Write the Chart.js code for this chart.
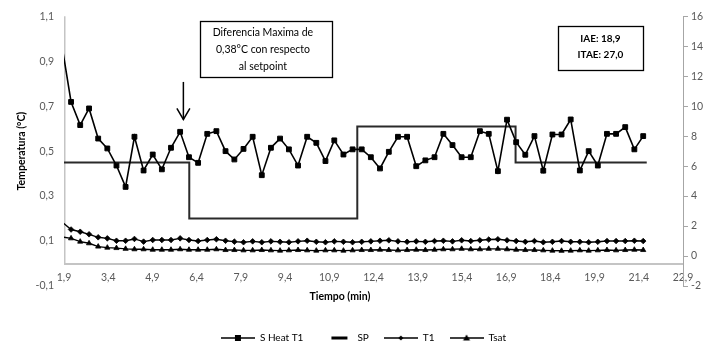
<!DOCTYPE html>
<html><head><meta charset="utf-8">
<script src="https://cdn.jsdelivr.net/npm/chart.js@4.4.1/dist/chart.umd.min.js"></script>
<style>html,body{margin:0;padding:0;background:#fff;}#wrap{width:727px;height:356px;}</style>
</head><body><div id="wrap"><canvas id="c" width="727" height="356"></canvas></div>
<script>
// ---- data ----
const times = [1.83, 2.14, 2.45, 2.75, 3.06, 3.37, 3.68, 3.99, 4.29, 4.60, 4.91, 5.22, 5.53, 5.84, 6.14, 6.45, 6.76, 7.07, 7.38, 7.68, 7.99, 8.30, 8.61, 8.92, 9.23, 9.53, 9.84, 10.15, 10.46, 10.77, 11.07, 11.38, 11.69, 12.00, 12.31, 12.62, 12.92, 13.23, 13.54, 13.85, 14.16, 14.47, 14.77, 15.08, 15.39, 15.70, 16.01, 16.31, 16.62, 16.93, 17.24, 17.55, 17.86, 18.16, 18.47, 18.78, 19.09, 19.40, 19.70, 20.01, 20.32, 20.63, 20.94, 21.25, 21.55];
const sHeatT1 = [0.97, 0.719, 0.616, 0.690, 0.556, 0.512, 0.436, 0.341, 0.564, 0.414, 0.485, 0.419, 0.515, 0.586, 0.473, 0.448, 0.577, 0.589, 0.500, 0.463, 0.510, 0.564, 0.393, 0.515, 0.556, 0.508, 0.436, 0.564, 0.537, 0.456, 0.548, 0.485, 0.508, 0.508, 0.473, 0.423, 0.497, 0.564, 0.564, 0.433, 0.459, 0.473, 0.577, 0.527, 0.473, 0.473, 0.589, 0.577, 0.411, 0.640, 0.540, 0.484, 0.567, 0.413, 0.574, 0.574, 0.641, 0.414, 0.500, 0.436, 0.577, 0.577, 0.607, 0.508, 0.567];
const spTimes = [1.9, 6.15, 6.15, 11.85, 11.85, 17.22, 17.22, 21.67];
const spValues = [0.45, 0.45, 0.20, 0.20, 0.61, 0.61, 0.45, 0.45];
const t1Values = [2.28, 1.77, 1.62, 1.45, 1.25, 1.18, 1.02, 1.02, 1.14, 0.96, 1.07, 1.07, 1.07, 1.18, 1.07, 1.00, 1.07, 1.12, 1.02, 0.96, 0.92, 0.98, 0.92, 0.98, 0.95, 0.92, 0.98, 1.02, 0.95, 0.92, 0.98, 0.95, 0.92, 0.95, 0.98, 1.02, 1.05, 0.98, 0.95, 0.98, 0.95, 1.00, 1.02, 0.98, 1.05, 1.00, 1.05, 1.10, 1.12, 1.05, 1.00, 0.95, 1.00, 0.92, 0.95, 1.00, 0.95, 0.95, 0.92, 0.95, 1.00, 1.00, 1.00, 1.02, 1.00];
const tsatValues = [1.28, 1.18, 0.96, 0.85, 0.63, 0.56, 0.53, 0.48, 0.45, 0.45, 0.42, 0.42, 0.42, 0.45, 0.42, 0.42, 0.42, 0.45, 0.40, 0.40, 0.38, 0.38, 0.40, 0.38, 0.36, 0.38, 0.40, 0.38, 0.36, 0.38, 0.38, 0.36, 0.38, 0.40, 0.40, 0.42, 0.40, 0.38, 0.40, 0.42, 0.40, 0.42, 0.45, 0.45, 0.48, 0.45, 0.45, 0.48, 0.48, 0.45, 0.42, 0.40, 0.40, 0.38, 0.36, 0.35, 0.36, 0.38, 0.36, 0.38, 0.40, 0.38, 0.40, 0.42, 0.40];
const xTicks = [1.9, 3.4, 4.9, 6.4, 7.9, 9.4, 10.9, 12.4, 13.9, 15.4, 16.9, 18.4, 19.9, 21.4, 22.9];
const xTickLabels = ["1,9", "3,4", "4,9", "6,4", "7,9", "9,4", "10,9", "12,4", "13,9", "15,4", "16,9", "18,4", "19,9", "21,4", "22,9"];
const yTicks = [-0.1, 0.1, 0.3, 0.5, 0.7, 0.9, 1.1];
const yTickLabels = ["-0,1", "0,1", "0,3", "0,5", "0,7", "0,9", "1,1"];
const y2Ticks = [-2, 0, 2, 4, 6, 8, 10, 12, 14, 16];
const y2TickLabels = ["-2", "0", "2", "4", "6", "8", "10", "12", "14", "16"];
const seriesNames = ["S Heat T1", "SP", "T1", "Tsat"];
const noteLines = ["Diferencia Maxima de", "0,38°C con respecto", "al setpoint"];
const statLines = ["IAE: 18,9", "ITAE: 27,0"];
const xTitle = "Tiempo (min)";
const yTitle = "Temperatura (°C)";

// ---- helpers ----
const FONT = "Lato, 'Open Sans', 'DejaVu Sans', sans-serif";
Chart.defaults.font.family = FONT;
const pts = (xs, ys) => xs.map((x, i) => ({x: x, y: ys[i]}));
const AXIS_GRAY = '#c4c4c4';

function legendImg(style) {
  const c = document.createElement('canvas');
  c.width = 34; c.height = 10;
  const g = c.getContext('2d');
  g.strokeStyle = '#000'; g.fillStyle = '#000';
  if (style === 'sp') {
    g.lineWidth = 3;
    g.beginPath(); g.moveTo(13, 5); g.lineTo(29, 5); g.stroke();
    return c;
  }
  g.lineWidth = 1.3;
  g.beginPath(); g.moveTo(0, 5); g.lineTo(34, 5); g.stroke();
  g.beginPath();
  if (style === 'rect') { g.rect(14, 2, 6, 6); }
  else if (style === 'rectRot') { g.moveTo(17, 2.5); g.lineTo(19.5, 5); g.lineTo(17, 7.5); g.lineTo(14.5, 5); g.closePath(); }
  else { g.moveTo(17, 1.5); g.lineTo(20.5, 7.5); g.lineTo(13.5, 7.5); g.closePath(); }
  g.fill();
  return c;
}
const legendStyles = [legendImg('rect'), legendImg('sp'), legendImg('rectRot'), legendImg('tri')];

const notesPlugin = {
  id: 'notes',
  beforeDatasetsDraw(chart) {
    const {ctx, scales: {y}, chartArea} = chart;
    const zy = Math.round(y.getPixelForValue(0));
    ctx.save();
    ctx.strokeStyle = AXIS_GRAY; ctx.lineWidth = 2;
    ctx.beginPath(); ctx.moveTo(chartArea.left, zy); ctx.lineTo(chartArea.right, zy); ctx.stroke();
    ctx.lineWidth = 1.5;
    ctx.beginPath(); ctx.moveTo(chartArea.left + 0.75, chartArea.top); ctx.lineTo(chartArea.left + 0.75, zy); ctx.stroke();
    ctx.restore();
  },
  afterDraw(chart) {
    const {ctx, scales: {x, y}, chartArea} = chart;
    ctx.save();
    // annotation box
    const bx0 = x.getPixelForValue(6.51), bx1 = x.getPixelForValue(10.99);
    const by0 = y.getPixelForValue(1.078), by1 = y.getPixelForValue(0.830);
    ctx.fillStyle = '#fff'; ctx.fillRect(bx0, by0, bx1 - bx0, by1 - by0);
    ctx.strokeStyle = '#000'; ctx.lineWidth = 1.3;
    ctx.strokeRect(Math.round(bx0) + 0.5, Math.round(by0) + 0.5, Math.round(bx1 - bx0), Math.round(by1 - by0));
    ctx.fillStyle = '#000'; ctx.textAlign = 'center'; ctx.textBaseline = 'middle';
    ctx.font = "10.5px " + FONT;
    const cx = (bx0 + bx1) / 2;
    noteLines.forEach((t, i) => ctx.fillText(t, cx - 3, by0 + 11 + i * 17));
    // stats box
    const sx0 = x.getPixelForValue(18.65), sx1 = x.getPixelForValue(21.55);
    const sy0 = y.getPixelForValue(1.056), sy1 = y.getPixelForValue(0.860);
    ctx.fillStyle = '#fff'; ctx.fillRect(sx0, sy0, sx1 - sx0, sy1 - sy0);
    ctx.strokeRect(Math.round(sx0) + 0.5, Math.round(sy0) + 0.5, Math.round(sx1 - sx0), Math.round(sy1 - sy0));
    ctx.fillStyle = '#000'; ctx.font = "bold 10px " + FONT;
    const scx = (sx0 + sx1) / 2;
    statLines.forEach((t, i) => ctx.fillText(t, scx, sy0 + 13 + i * 16));
    // arrow
    const ax = x.getPixelForValue(5.95);
    const ay0 = y.getPixelForValue(0.808), ay1 = y.getPixelForValue(0.641);
    ctx.lineWidth = 1.5; ctx.strokeStyle = '#000';
    ctx.beginPath(); ctx.moveTo(ax, ay0); ctx.lineTo(ax, ay1); ctx.stroke();
    ctx.beginPath(); ctx.moveTo(ax - 6.5, ay1 - 11); ctx.lineTo(ax, ay1); ctx.lineTo(ax + 6.5, ay1 - 11); ctx.stroke();
    // x title
    ctx.font = "bold 10.5px " + FONT; ctx.fillStyle = '#000';
    ctx.fillText(xTitle, x.getPixelForValue(11.26), chartArea.bottom + 11);
    ctx.restore();
  }
};

new Chart(document.getElementById('c'), {
  type: 'line',
  data: {
    datasets: [
      {label: seriesNames[0], data: pts(times, sHeatT1), yAxisID: 'y', borderColor: '#000', backgroundColor: '#000', borderWidth: 1.6,
       pointStyle: 'rect', pointRadius: c => c.dataIndex === 0 ? 0 : 3.4, pointBorderWidth: 1, pointBackgroundColor: '#000', pointBorderColor: '#000', tension: 0, clip: 0},
      {label: seriesNames[1], data: pts(spTimes, spValues), yAxisID: 'y', borderColor: '#2a2a2a', backgroundColor: '#2a2a2a', borderWidth: 2, pointRadius: 0, tension: 0, clip: 0},
      {label: seriesNames[2], data: pts(times, t1Values), yAxisID: 'y1', borderColor: '#000', backgroundColor: '#000', borderWidth: 1.4,
       pointStyle: 'rectRot', pointRadius: c => c.dataIndex === 0 ? 0 : 2.8, pointBorderWidth: 0.8, tension: 0, clip: 0},
      {label: seriesNames[3], data: pts(times, tsatValues), yAxisID: 'y1', borderColor: '#000', backgroundColor: '#000', borderWidth: 1.4,
       pointStyle: 'triangle', pointRadius: c => c.dataIndex === 0 ? 0 : 3, pointBorderWidth: 0.8, tension: 0, clip: 0}
    ]
  },
  options: {
    responsive: false, animation: false, devicePixelRatio: 1,
    layout: {padding: {top: 14, left: 0, right: 0, bottom: 3}},
    scales: {
      x: {type: 'linear', min: 1.9, max: 22.9, position: 'bottom',
          afterFit: s => { s.height = 32; },
          afterBuildTicks: s => { s.ticks = xTicks.map(v => ({value: v})); },
          grid: {display: false, drawTicks: false}, border: {display: false},
          ticks: {autoSkip: false, maxRotation: 0, mirror: true, padding: 2, color: '#595959', font: {size: 10.5}, callback: (v, i) => xTickLabels[i]}},
      y: {type: 'linear', position: 'left', min: -0.1, max: 1.1,
          afterFit: s => { s.width = 64; },
          afterBuildTicks: s => { s.ticks = yTicks.map(v => ({value: v})); },
          grid: {display: false, drawTicks: false}, border: {display: false},
          title: {display: true, text: yTitle, color: '#000', font: {size: 10.5, weight: 'bold'}, padding: {top: 15, bottom: 0}},
          ticks: {padding: 10, color: '#595959', font: {size: 10.5}, callback: (v, i) => yTickLabels[i]}},
      y1: {type: 'linear', position: 'right', min: -2, max: 16,
          afterFit: s => { s.width = 44; },
          afterBuildTicks: s => { s.ticks = y2Ticks.map(v => ({value: v})); },
          grid: {display: true, drawOnChartArea: false, drawTicks: true, tickLength: 5, color: '#a6a6a6'},
          border: {display: true, color: '#a6a6a6', width: 1},
          ticks: {padding: 3, color: '#595959', font: {size: 10.5}, callback: (v, i) => y2TickLabels[i]}}
    },
    plugins: {
      tooltip: {enabled: false},
      legend: {position: 'bottom', labels: {usePointStyle: true, pointStyleWidth: 34, padding: 15, color: '#333', font: {size: 10},
        generateLabels: chart => chart.data.datasets.map((d, i) => ({text: d.label, datasetIndex: i, pointStyle: legendStyles[i], fillStyle: '#000', strokeStyle: '#000', lineWidth: 0, hidden: false}))}}
    }
  },
  plugins: [notesPlugin]
});
</script></body></html>
